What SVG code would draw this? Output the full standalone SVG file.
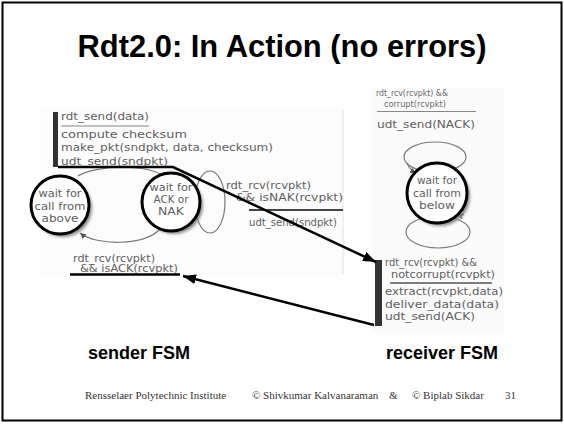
<svg xmlns="http://www.w3.org/2000/svg" width="564" height="424" viewBox="0 0 564 424">
  <defs>
    <style>
      .title { font-family: "Liberation Sans", Arial, sans-serif; font-weight: bold; font-size: 31px; fill: #000; }
      .caption { font-family: "Liberation Sans", Arial, sans-serif; font-weight: bold; font-size: 18px; fill: #000; }
      .footer { font-family: "Liberation Serif", "Times New Roman", serif; font-size: 11px; fill: #333; }
      .fsm { font-family: "DejaVu Sans", "Liberation Sans", sans-serif; font-size: 10px; fill: #606060; }
      .fsm-s { font-family: "DejaVu Sans", "Liberation Sans", sans-serif; font-size: 9px; fill: #6a6a6a; }
      .state { fill: #fff; stroke: #000; stroke-width: 3; }
      .shadow { fill: #888; filter: url(#soft); }
      .trans { fill: none; stroke: #7a7a7a; stroke-width: 1.2; }
      .sep { stroke: #888; stroke-width: 1; }
      .bar { fill: #333; }
      .flow { fill: none; stroke: #000; stroke-width: 2.5; }
    </style>
    <filter id="soft" x="-30%" y="-30%" width="160%" height="160%">
      <feGaussianBlur stdDeviation="1.6"/>
    </filter>
    <marker id="msg-head" markerUnits="userSpaceOnUse" markerWidth="14" markerHeight="10" refX="13" refY="5" orient="auto">
      <path d="M0,0 L13,5 L0,10 z" fill="#000"/>
    </marker>
    <marker id="fsm-head" markerUnits="userSpaceOnUse" markerWidth="7" markerHeight="6" refX="6" refY="3" orient="auto">
      <path d="M0,0 L6,3 L0,6 z" fill="#555"/>
    </marker>
  </defs>

  <!-- slide frame -->
  <rect x="2.5" y="2.5" width="559" height="418" fill="#fff" stroke="#000" stroke-width="2"/>

  <text id="title" class="title" x="282" y="57" text-anchor="middle" textLength="409" lengthAdjust="spacingAndGlyphs">Rdt2.0: In Action (no errors)</text>

  <!-- panel backgrounds for the two machines -->
  <rect x="40" y="108" width="303" height="167" fill="#fcfcfc"/>
  <line x1="343" y1="110" x2="343" y2="275" stroke="#e2e2e2" stroke-width="1"/>
  <rect x="372" y="88" width="132" height="245" fill="#fbfbfb"/>

  <!-- sender: transitions between its two states -->
  <g id="sender-transitions">
    <ellipse class="trans" cx="210" cy="202" rx="15" ry="31"/>
    <path class="trans" d="M78,176 C95,165 150,163 166,178" marker-end="url(#fsm-head)"/>
    <path class="trans" d="M160,229 C146,246 96,246 80,233" marker-end="url(#fsm-head)"/>
  </g>

  <g id="state-wait-above">
    <circle class="shadow" cx="63" cy="208" r="29"/>
    <circle class="state" cx="60" cy="205" r="29"/>
    <text class="fsm" text-anchor="middle" x="60" y="197" textLength="43" lengthAdjust="spacingAndGlyphs">wait for</text>
    <text class="fsm" text-anchor="middle" x="60" y="209.5" textLength="51" lengthAdjust="spacingAndGlyphs">call from</text>
    <text class="fsm" text-anchor="middle" x="60" y="222" textLength="37" lengthAdjust="spacingAndGlyphs">above</text>
  </g>

  <g id="state-wait-ack">
    <circle class="shadow" cx="174" cy="205" r="29"/>
    <circle class="state" cx="171" cy="202" r="29"/>
    <text class="fsm" text-anchor="middle" x="171" y="191" textLength="43" lengthAdjust="spacingAndGlyphs">wait for</text>
    <text class="fsm" text-anchor="middle" x="171" y="203" textLength="35" lengthAdjust="spacingAndGlyphs">ACK or</text>
    <text class="fsm" text-anchor="middle" x="171" y="215" textLength="26" lengthAdjust="spacingAndGlyphs">NAK</text>
  </g>

  <!-- sender: event / action labels -->
  <g id="sender-send-label">
    <rect class="bar" x="53" y="112" width="5" height="55"/>
    <text class="fsm" x="61" y="120" textLength="88" lengthAdjust="spacingAndGlyphs">rdt_send(data)</text>
    <line class="sep" x1="61" y1="126" x2="149" y2="126" stroke-width="1.5"/>
    <text class="fsm" x="61" y="137.5" textLength="126" lengthAdjust="spacingAndGlyphs">compute checksum</text>
    <text class="fsm" x="61" y="151" textLength="212" lengthAdjust="spacingAndGlyphs">make_pkt(sndpkt, data, checksum)</text>
    <text class="fsm" x="61" y="164.5" textLength="107" lengthAdjust="spacingAndGlyphs">udt_send(sndpkt)</text>
  </g>

  <g id="sender-nak-label">
    <text class="fsm" x="226" y="189" textLength="85" lengthAdjust="spacingAndGlyphs">rdt_rcv(rcvpkt)</text>
    <text class="fsm" x="236" y="201" textLength="107" lengthAdjust="spacingAndGlyphs">&amp;&amp; isNAK(rcvpkt)</text>
    <line x1="249" y1="210" x2="343" y2="210" stroke="#444" stroke-width="1.8"/>
    <text class="fsm" x="249" y="226" textLength="88" lengthAdjust="spacingAndGlyphs">udt_send(sndpkt)</text>
  </g>

  <g id="sender-ack-label">
    <text class="fsm" x="73" y="262" textLength="82" lengthAdjust="spacingAndGlyphs">rdt_rcv(rcvpkt)</text>
    <text class="fsm" x="80" y="272" textLength="98" lengthAdjust="spacingAndGlyphs">&amp;&amp; isACK(rcvpkt)</text>
  </g>

  <!-- receiver -->
  <g id="receiver-transitions">
    <ellipse class="trans" cx="435" cy="157" rx="31" ry="15"/>
    <path class="trans" d="M407,163 C409,168 412,171 416,173" marker-end="url(#fsm-head)"/>
    <ellipse class="trans" cx="438" cy="232" rx="32" ry="16"/>
    <path class="trans" d="M462,219 C461,216 460,214 458,212" marker-end="url(#fsm-head)"/>
  </g>

  <g id="state-wait-below">
    <circle class="shadow" cx="440" cy="196" r="30"/>
    <circle class="state" cx="437" cy="193" r="30"/>
    <text class="fsm" text-anchor="middle" x="437" y="184" textLength="40" lengthAdjust="spacingAndGlyphs">wait for</text>
    <text class="fsm" text-anchor="middle" x="437" y="196.5" textLength="48" lengthAdjust="spacingAndGlyphs">call from</text>
    <text class="fsm" text-anchor="middle" x="437" y="209" textLength="36" lengthAdjust="spacingAndGlyphs">below</text>
  </g>

  <g id="receiver-corrupt-label">
    <text class="fsm-s" x="376" y="96" textLength="72" lengthAdjust="spacingAndGlyphs">rdt_rcv(rcvpkt) &amp;&amp;</text>
    <text class="fsm-s" x="384" y="107" textLength="62" lengthAdjust="spacingAndGlyphs">corrupt(rcvpkt)</text>
    <line class="sep" x1="377" y1="111.5" x2="476" y2="111.5" stroke="#bbb"/>
    <text class="fsm" x="377" y="128" textLength="98" lengthAdjust="spacingAndGlyphs">udt_send(NACK)</text>
  </g>

  <g id="receiver-ok-label">
    <rect class="bar" x="375" y="260" width="7" height="66"/>
    <text class="fsm" x="385" y="266" textLength="92" lengthAdjust="spacingAndGlyphs">rdt_rcv(rcvpkt) &amp;&amp;</text>
    <text class="fsm" x="391" y="278" textLength="104" lengthAdjust="spacingAndGlyphs">notcorrupt(rcvpkt)</text>
    <line x1="390" y1="283" x2="492" y2="283" stroke="#555" stroke-width="1.5"/>
    <text class="fsm" x="385" y="295" textLength="118" lengthAdjust="spacingAndGlyphs">extract(rcvpkt,data)</text>
    <text class="fsm" x="385" y="308" textLength="114" lengthAdjust="spacingAndGlyphs">deliver_data(data)</text>
    <text class="fsm" x="385" y="320" textLength="90" lengthAdjust="spacingAndGlyphs">udt_send(ACK)</text>
  </g>

  <!-- packet flow: data packet to receiver, ACK back to sender -->
  <g id="connectors">
    <path class="flow" d="M58,167 L173,167 L376,262" marker-end="url(#msg-head)"/>
    <path class="flow" d="M70,274.5 L180,274.5"/>
    <path class="flow" d="M374,325 L183,276" marker-end="url(#msg-head)"/>
  </g>

  <text id="sender-caption" class="caption" x="88" y="359">sender FSM</text>
  <text id="receiver-caption" class="caption" x="386" y="359">receiver FSM</text>

  <g id="footer">
    <text class="footer" x="85" y="399">Rensselaer Polytechnic Institute</text>
    <text class="footer" x="252" y="399">© Shivkumar Kalvanaraman</text>
    <text class="footer" x="389" y="399">&amp;</text>
    <text class="footer" x="412" y="399">© Biplab Sikdar</text>
    <text class="footer" x="505" y="399">31</text>
  </g>
</svg>
